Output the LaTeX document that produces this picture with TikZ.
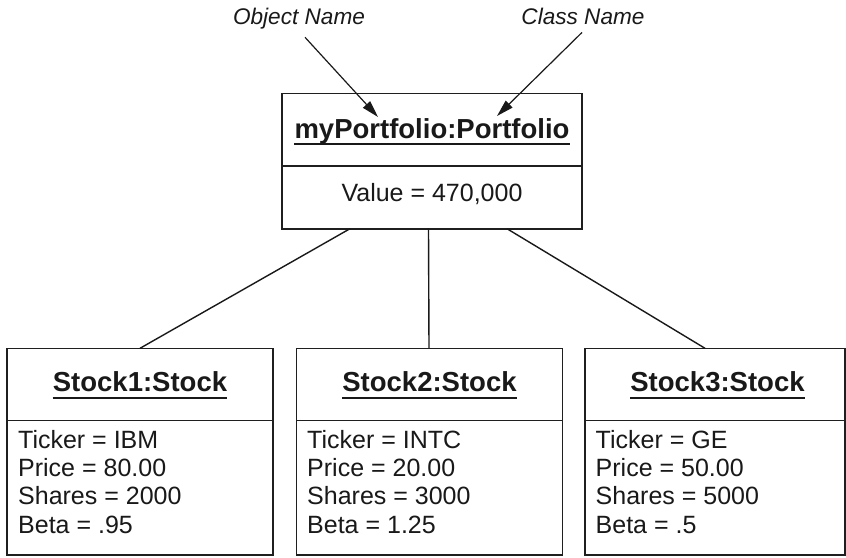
\documentclass[tikz,border=0pt]{standalone}
\usepackage{fontspec}
\setmainfont{Liberation Sans}
\usetikzlibrary{arrows.meta,calc}
\tikzset{
  objbox/.style={draw=black!88, line width=1.6pt, rectangle, inner sep=0pt, outer sep=0pt, anchor=north west, fill=white},
  divider/.style={draw=black!88, line width=1.6pt},
  ttl/.style={font=\fontsize{27.5}{30}\selectfont\bfseries, inner sep=0pt, anchor=base, text=black!90},
  body/.style={font=\fontsize{25}{28}\selectfont, inner sep=0pt, anchor=base west, text=black!90},
  note/.style={font=\fontsize{22.6}{26}\selectfont\itshape, inner sep=0pt, anchor=base, text=black!90},
  link/.style={draw=black!90, line width=1.4pt},
  pointer/.style={draw=black!90, line width=1.2pt, -{Triangle[length=17pt,width=9.5pt]}},
  uline/.style={draw=black!90, line width=1.8pt},
}
\begin{document}
\begin{tikzpicture}[x=1pt,y=-1pt]
\useasboundingbox (0,0) rectangle (846,557);

% top object
\node[objbox, minimum width=300pt, minimum height=135.4pt] (top) at (282,93.3) {};
\draw[divider] ([yshift=-72.4pt]top.north west) -- ([yshift=-72.4pt]top.north east);
\node[ttl] (tt) at (432,138) {myPortfolio:Portfolio};
\draw[uline] ([yshift=-6pt]tt.base west) -- ([yshift=-6pt]tt.base east);
\node[body, anchor=base] (tv) at (432,201.7) {Value = 470,000};

% notes
\node[note] (on) at (299,24) {Object Name};
\node[note] (cn) at (583,24) {Class Name};
\coordinate (onTip) at (378,117);
\coordinate (cnTip) at (497,116);
\draw[pointer] ([shift={(6,8.4)}]on.south) -- (onTip);
\draw[pointer] ([shift={(-1,8)}]cn.south) -- (cnTip);

% stock objects
\node[objbox, minimum width=266pt, minimum height=206.7pt] (s1) at (7,348.3) {};
\node[objbox, minimum width=266pt, minimum height=206.7pt] (s2) at (296.5,348.3) {};
\node[objbox, minimum width=260pt, minimum height=206.7pt] (s3) at (585,348.3) {};
\foreach \s in {s1,s2,s3}
  \draw[divider] ([yshift=-72.2pt]\s.north west) -- ([yshift=-72.2pt]\s.north east);

\node[ttl] (t1) at ($(s1.north)+(0,43.4)$) {Stock1:Stock};
\node[ttl] (t2) at ($(s2.north)+(0,43.4)$) {Stock2:Stock};
\node[ttl] (t3) at ($(s3.north)+(2.5,43.4)$) {Stock3:Stock};
\foreach \t in {t1,t2,t3}
  \draw[uline] ([yshift=-6pt]\t.base west) -- ([yshift=-6pt]\t.base east);

\foreach \txt [count=\i] in {Ticker = IBM, Price = 80.00, Shares = 2000, Beta = .95}
  \node[body] (a\i) at ($(s1.north west)+(11,100+28.3*\i-28.3)$) {\txt};
\foreach \txt [count=\i] in {Ticker = INTC, Price = 20.00, Shares = 3000, Beta = 1.25}
  \node[body] (b\i) at ($(s2.north west)+(10.5,100+28.3*\i-28.3)$) {\txt};
\foreach \txt [count=\i] in {Ticker = GE, Price = 50.00, Shares = 5000, Beta = .5}
  \node[body] (c\i) at ($(s3.north west)+(10.5,100+28.3*\i-28.3)$) {\txt};

% links
\draw[link] ([xshift=-82pt]top.south) -- (s1.north);
\draw[link] ([xshift=-3.5pt]top.south) -- ([xshift=-0.5pt]s2.north);
\draw[link] ([xshift=75pt]top.south) -- ([xshift=-10pt]s3.north);
\end{tikzpicture}
\end{document}
